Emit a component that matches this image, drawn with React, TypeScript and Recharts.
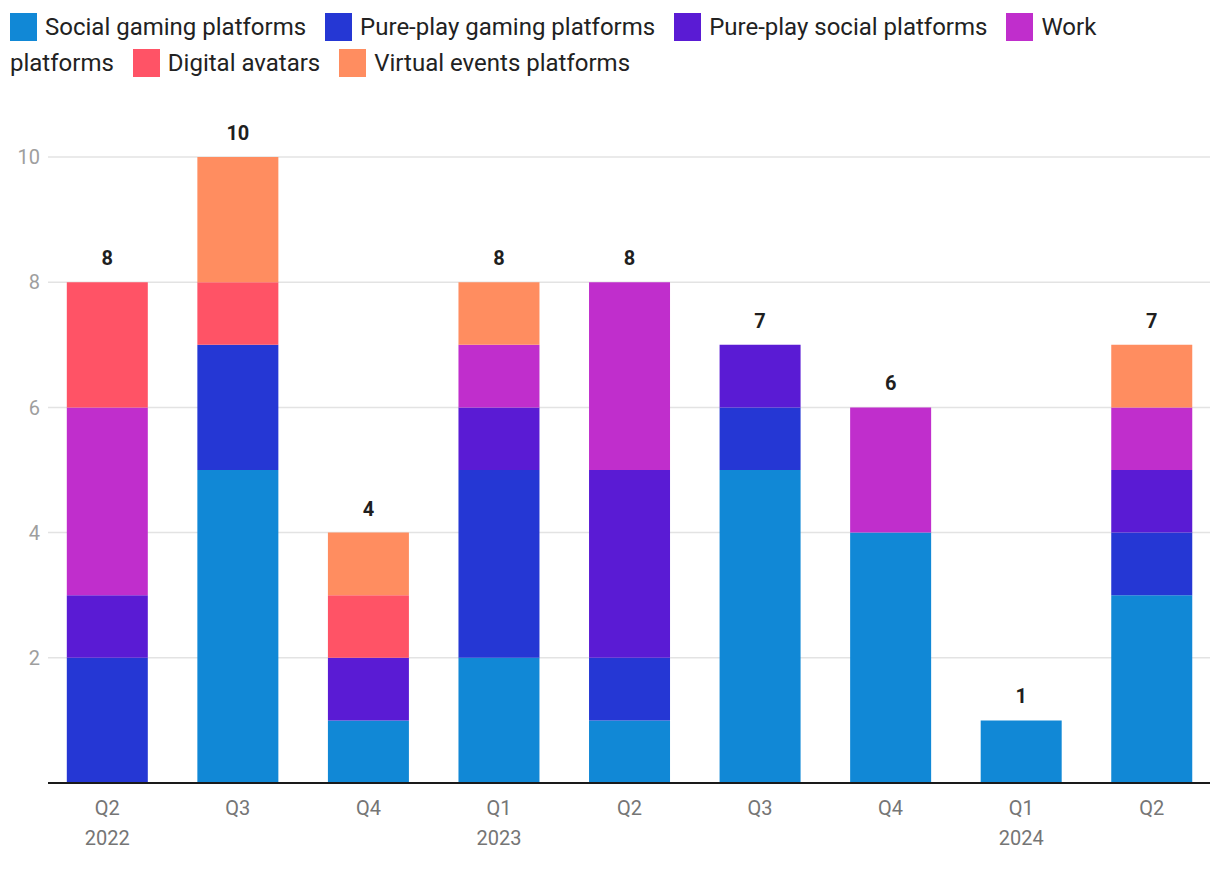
import { BarChart, Bar, XAxis, YAxis, CartesianGrid, LabelList } from "recharts";

const quarters = ["Q2", "Q3", "Q4", "Q1", "Q2", "Q3", "Q4", "Q1", "Q2"];
const years = ["2022", "", "", "2023", "", "", "", "2024", ""];

const socialGaming = [0, 5, 1, 2, 1, 5, 4, 1, 3];
const pureGaming = [2, 2, 0, 3, 1, 1, 0, 0, 1];
const pureSocial = [1, 0, 1, 1, 3, 1, 0, 0, 1];
const work = [3, 0, 0, 1, 3, 0, 2, 0, 1];
const avatars = [2, 1, 1, 0, 0, 0, 0, 0, 0];
const events = [0, 2, 1, 1, 0, 0, 0, 0, 1];

const series = [
  { key: "socialGaming", name: "Social gaming platforms", color: "#1188d6", values: socialGaming },
  { key: "pureGaming", name: "Pure-play gaming platforms", color: "#2537d4", values: pureGaming },
  { key: "pureSocial", name: "Pure-play social platforms", color: "#5a1bd4", values: pureSocial },
  { key: "work", name: "Work platforms", color: "#c02ecc", values: work },
  { key: "avatars", name: "Digital avatars", color: "#ff5366", values: avatars },
  { key: "events", name: "Virtual events platforms", color: "#ff8d60", values: events },
];

const data = quarters.map((q, i) => ({
  idx: i,
  quarter: q,
  year: years[i],
  socialGaming: socialGaming[i],
  pureGaming: pureGaming[i],
  pureSocial: pureSocial[i],
  work: work[i],
  avatars: avatars[i],
  events: events[i],
  total:
    socialGaming[i] + pureGaming[i] + pureSocial[i] + work[i] + avatars[i] + events[i],
}));

// index of the topmost non-zero series for each column
const topSeries = quarters.map((_, i) => {
  let top = 0;
  series.forEach((s, k) => {
    if (s.values[i] > 0) top = k;
  });
  return top;
});

const FONT = "Roboto, 'Noto Sans', sans-serif";

function QuarterTick({ x, y, payload }: any) {
  const d = data[payload.value];
  return (
    <g transform={`translate(${x},${y})`}>
      <text textAnchor="middle" fill="#757575" fontSize={20} fontFamily={FONT} y={24}>
        {d.quarter}
      </text>
      {d.year && (
        <text textAnchor="middle" fill="#757575" fontSize={20} fontFamily={FONT} y={54}>
          {d.year}
        </text>
      )}
    </g>
  );
}

// value carries the column index (LabelList dataKey="idx")
function makeTotalLabel(seriesIdx: number) {
  return function TotalLabel({ x, y, width, value }: any) {
    const i = Number(value);
    if (topSeries[i] !== seriesIdx) return null;
    return (
      <text
        x={x + width / 2}
        y={y - 17}
        textAnchor="middle"
        fill="#1f1f1f"
        fontSize={20}
        fontWeight="bold"
        fontFamily={FONT}
      >
        {data[i].total}
      </text>
    );
  };
}

function Legend() {
  return (
    <div
      style={{
        position: "absolute",
        top: 0,
        left: 2,
        width: 1130,
        fontFamily: FONT,
        fontSize: 24,
        lineHeight: "36px",
        color: "#222",
        marginTop: 1,
      }}
    >
      {series.map((s) => (
        <span key={s.key} style={{ marginRight: 19 }}>
          <span
            style={{
              display: "inline-block",
              width: 27,
              height: 28,
              background: s.color,
              verticalAlign: "-6px",
              marginRight: 8,
            }}
          />
          {s.name}
        </span>
      ))}
    </div>
  );
}

export default function App() {
  return (
    <div style={{ position: "relative", width: 1204, height: 854 }}>
      <Legend />
      <BarChart
        width={1204}
        height={854}
        data={data}
        margin={{ top: 149, right: 2, left: 0, bottom: 0 }}
        barCategoryGap="19%"
      >
        <CartesianGrid vertical={false} stroke="#e3e3e3" strokeWidth={1.5} />
        <XAxis
          dataKey="idx"
          type="category"
          height={79}
          tick={<QuarterTick />}
          tickLine={false}
          axisLine={{ stroke: "#1a1a1a", strokeWidth: 2 }}
          interval={0}
          padding={{ left: -6, right: -7 }}
        />
        <YAxis
          width={40}
          domain={[0, 10]}
          ticks={[2, 4, 6, 8, 10]}
          axisLine={false}
          tickLine={false}
          tick={{ fill: "#9e9e9e", fontSize: 20, fontFamily: FONT }}
        />
        {series.map((s, i) => (
          <Bar
            key={s.key}
            dataKey={s.key}
            name={s.name}
            stackId="a"
            fill={s.color}
            isAnimationActive={false}
          >
            <LabelList dataKey="idx" content={makeTotalLabel(i)} />
          </Bar>
        ))}
      </BarChart>
    </div>
  );
}
